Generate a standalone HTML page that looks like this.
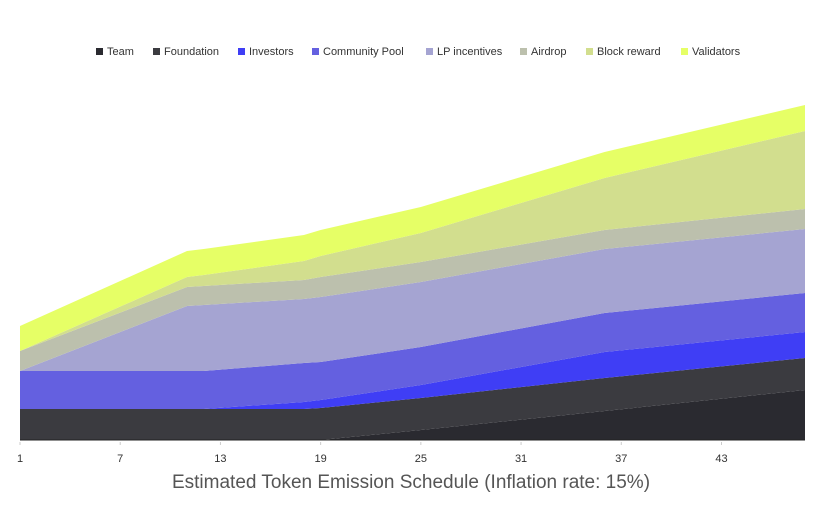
<!DOCTYPE html>
<html><head><meta charset="utf-8"><style>
html,body{margin:0;padding:0;background:#fff;width:828px;height:507px;overflow:hidden;font-family:"Liberation Sans",sans-serif}
.lg{position:absolute;top:45px;font-size:11px;color:#333;white-space:nowrap;line-height:14px}
.lg i{display:inline-block;width:7px;height:7px;margin-right:4px;vertical-align:0px}
</style></head><body>
<div id="legend"></div>
<svg id="chart" width="828" height="507" style="position:absolute;left:0;top:0"></svg>
<script>
const months = [1, 11, 12, 18, 19, 25, 36, 48];
const seriesNames = ["Team","Foundation","Investors","Community Pool","LP incentives","Airdrop","Block reward","Validators"];
const team = [0, 0, 0, 0, 0, 10, 29, 50];
const foundation = [31, 31, 31, 31, 32, 32, 33, 32];
const investors = [0, 0, 0, 7, 8, 13, 26, 26];
const community = [38, 38, 38, 39, 38, 38, 39, 39];
const lpIncentives = [0, 65, 66, 64, 65, 65, 64, 64];
const airdrop = [20, 19, 19, 19, 20, 20, 19, 20];
const blockReward = [0, 10, 11, 19, 21, 29, 52, 78];
const validators = [25, 26, 26, 26, 26, 26, 26, 26];
const tickLabels = [1, 7, 13, 19, 25, 31, 37, 43];
const colors = ["#2a2a30","#3b3b40","#3f3ef5","#6460e0","#a5a4d2","#bcc0ad","#d2de8e","#e6ff66"];
const series = [team, foundation, investors, community, lpIncentives, airdrop, blockReward, validators];

const NS = "http://www.w3.org/2000/svg";
const svg = document.getElementById("chart");
const x0 = 20, x1 = 805, y0 = 440;
const xScale = m => x0 + (m - 1) * (x1 - x0) / 47;
const yScale = v => y0 - v;

let base = months.map(() => 0);
series.forEach((s, i) => {
  const top = base.map((b, j) => b + s[j]);
  let d = "M" + months.map((m, j) => xScale(m) + "," + yScale(top[j])).join("L");
  for (let j = months.length - 1; j >= 0; j--) d += "L" + xScale(months[j]) + "," + yScale(base[j]);
  d += "Z";
  const p = document.createElementNS(NS, "path");
  p.setAttribute("d", d);
  p.setAttribute("fill", colors[i]);
  
  
  svg.appendChild(p);
  base = top;
});

const axis = document.createElementNS(NS, "line");
axis.setAttribute("x1", x0); axis.setAttribute("x2", x1);
axis.setAttribute("y1", y0); axis.setAttribute("y2", y0);
axis.setAttribute("stroke", "#222"); axis.setAttribute("stroke-width", "1");


svg.appendChild(axis);

tickLabels.forEach(t => {
  const tk = document.createElementNS(NS, "line");
  tk.setAttribute("x1", xScale(t)); tk.setAttribute("x2", xScale(t));
  tk.setAttribute("y1", 442); tk.setAttribute("y2", 445);
  tk.setAttribute("stroke", "#ccc");
  
  
  svg.appendChild(tk);
  const tx = document.createElementNS(NS, "text");
  tx.setAttribute("x", xScale(t)); tx.setAttribute("y", 462);
  tx.setAttribute("text-anchor", "middle");
  tx.setAttribute("font-size", "11"); tx.setAttribute("fill", "#333");
  tx.setAttribute("font-family", "Liberation Sans, sans-serif");
  tx.textContent = t;
  
  
  svg.appendChild(tx);
});

const title = document.createElementNS(NS, "text");
title.setAttribute("x", 411); title.setAttribute("y", 488);
title.setAttribute("text-anchor", "middle");
title.setAttribute("font-size", "19"); title.setAttribute("fill", "#555");
title.setAttribute("font-family", "Liberation Sans, sans-serif");
title.textContent = "Estimated Token Emission Schedule (Inflation rate: 15%)";


svg.appendChild(title);

const legendX = [96, 153, 238, 312, 426, 520, 586, 681];
const lg = document.getElementById("legend");
seriesNames.forEach((n, i) => {
  const e = document.createElement("div");
  e.className = "lg";
  e.style.left = legendX[i] + "px";
  e.innerHTML = '<i style="background:' + colors[i] + '"></i>' + n;
  
  
  lg.appendChild(e);
});
</script>
</body></html>
